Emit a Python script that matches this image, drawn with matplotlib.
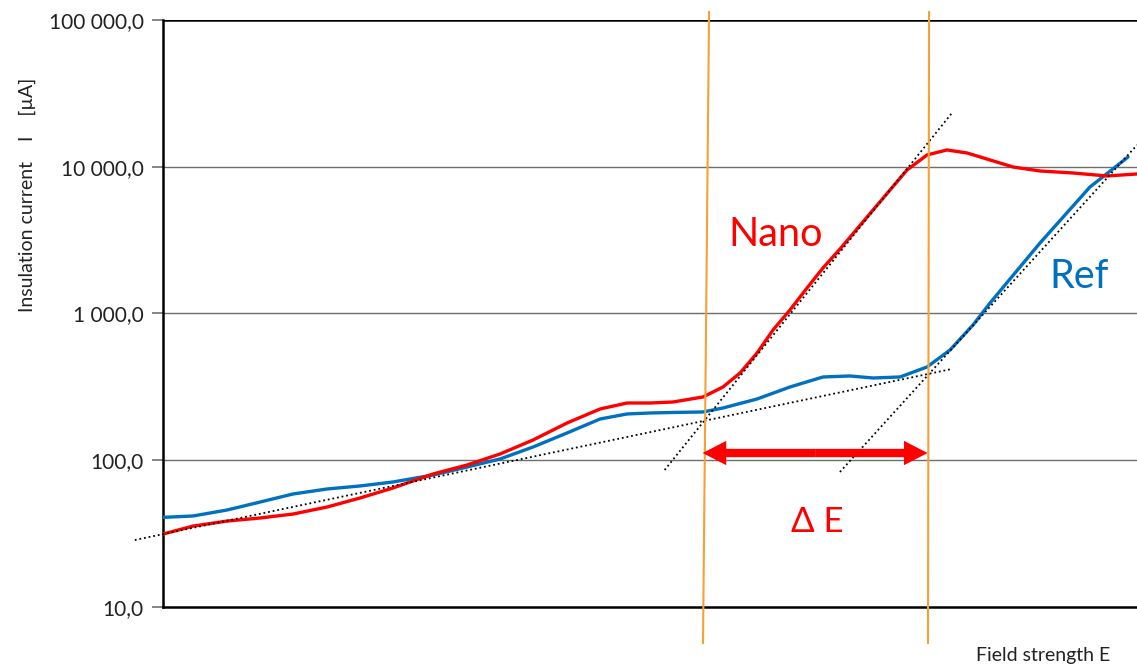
import matplotlib.pyplot as plt
from matplotlib.patches import FancyArrowPatch
from matplotlib.transforms import blended_transform_factory

plt.rcParams['font.family'] = ['Lato', 'DejaVu Sans']

# Field strength (arbitrary units 0-100) and insulation current [µA]
ref_e = [0, 3.08, 6.57, 9.96, 13.35, 16.84, 20.23, 23.61, 27.72, 31.21, 34.60,
         37.99, 41.48, 44.87, 47.64, 50.0, 52.36, 55.44, 57.49, 60.99, 64.37,
         67.76, 70.53, 72.90, 75.67, 78.44, 80.80, 83.16, 84.91, 90.04, 95.17, 99.08]
ref_i = [40.8, 41.7, 45.8, 51.9, 58.9, 63.7, 66.8, 71.1, 79.3, 89.9, 102.0,
         123.1, 153.4, 191.0, 206.7, 209.9, 211.6, 213.3, 227.0, 261.5, 315.6,
         369.3, 375.1, 363.5, 369.3, 431.9, 564.0, 835, 1179, 3022, 7278, 11650]

nano_e = [0, 3.08, 6.57, 9.96, 13.35, 16.84, 20.23, 23.61, 27.72, 31.21, 34.60,
          37.99, 41.48, 44.87, 47.64, 50.0, 52.36, 55.44, 57.49, 59.24, 60.99,
          62.63, 64.37, 66.12, 67.76, 69.51, 72.90, 76.39, 78.44, 80.49, 82.55,
          84.91, 87.27, 90.04, 93.43, 96.92, 100]
nano_i = [31.4, 35.6, 38.5, 40.4, 43.0, 48.0, 55.3, 64.7, 80.6, 92.8, 110.3,
          137.4, 179.4, 223.5, 245.5, 245.5, 249.4, 269.8, 315.6, 393.0, 538.0,
          772, 1057, 1492, 2043, 2752, 5074, 9504, 12030, 13010, 12410,
          11120, 9961, 9355, 9065, 8650, 8925]

# Tangent lines (start/end points)
base_fit = ([-2.9, 81.0], [28.6, 418.8])
nano_fit = ([51.5, 81.0], [85.8, 23240])
ref_fit = ([69.5, 100.0], [83.2, 14060])

# Onset positions (top, bottom) for both materials
onset_nano = [56.06, 55.44]
onset_ref = [78.65, 78.54]
delta_e = [55.4, 78.5]
delta_level = 112

yticks = [10, 100, 1000, 10000, 100000]
ytick_labels = ['10,0', '100,0', '1 000,0', '10 000,0', '100 000,0']

red = '#FF0000'
blue = '#0070C0'
orange = '#F7A033'

fig = plt.figure(figsize=(11.37, 6.66), dpi=100)
ax = fig.add_axes([0.1434, 0.0886, 0.8566, 0.8814])
ax.set_yscale('log')
ax.set_ylim(10, 100000)
ax.set_xlim(0, 100)

for y in [100, 1000, 10000]:
    ax.axhline(y, color='#6e6e6e', lw=1.0, zorder=1)
ax.axhline(100000, color='black', lw=1.8, zorder=1)

ax.plot(ref_e, ref_i, color=blue, lw=2.4, zorder=4,
        solid_capstyle='round', solid_joinstyle='round')
ax.plot(nano_e, nano_i, color=red, lw=2.4, zorder=4,
        solid_capstyle='round', solid_joinstyle='round')

for xs, ys in (base_fit, nano_fit, ref_fit):
    ax.plot(xs, ys, color='black', lw=1.3, linestyle=(0, (1, 1.6)), zorder=5,
            clip_on=False)

trans = blended_transform_factory(ax.transData, ax.transAxes)
for xs in (onset_nano, onset_ref):
    ax.plot(xs, [1.0136, -0.0613], color=orange, lw=1.5, transform=trans,
            clip_on=False, zorder=6)

# ΔE double arrow: two filled halves meeting in the middle
mid = (delta_e[0] + delta_e[1]) / 2
for end in delta_e:
    ax.add_patch(FancyArrowPatch(
        (mid, delta_level), (end, delta_level),
        arrowstyle='simple,head_length=17,head_width=17.5,tail_width=6',
        mutation_scale=1, color=red, lw=0, shrinkA=0, shrinkB=0, zorder=7))

ax.text(62.9, 3430, 'Nano', color=red, fontsize=28.5, ha='center', va='center')
ax.text(94.1, 1775, 'Ref', color=blue, fontsize=28.5, ha='center', va='center')
ax.text(67.2, 37.9, 'Δ E', color=red, fontsize=25, ha='center', va='center')

ax.set_yticks(yticks)
ax.set_yticklabels(ytick_labels, fontsize=15, color='#222222')
ax.yaxis.set_minor_locator(plt.NullLocator())
ax.tick_params(axis='y', length=8, width=1.2, color='#6e6e6e', pad=6)
ax.set_xticks([])

for side in ('top', 'right'):
    ax.spines[side].set_visible(False)
ax.spines['left'].set_linewidth(1.8)
ax.spines['bottom'].set_linewidth(1.8)

fig.text(0.0237, 0.707, 'Insulation current    I    [µA]', rotation=90,
         ha='center', va='center', fontsize=14, color='#222222')
fig.text(0.917, 0.0165, 'Field strength E', ha='center', va='center',
         fontsize=14, color='#222222')

fig.savefig('out.png', dpi=100)
